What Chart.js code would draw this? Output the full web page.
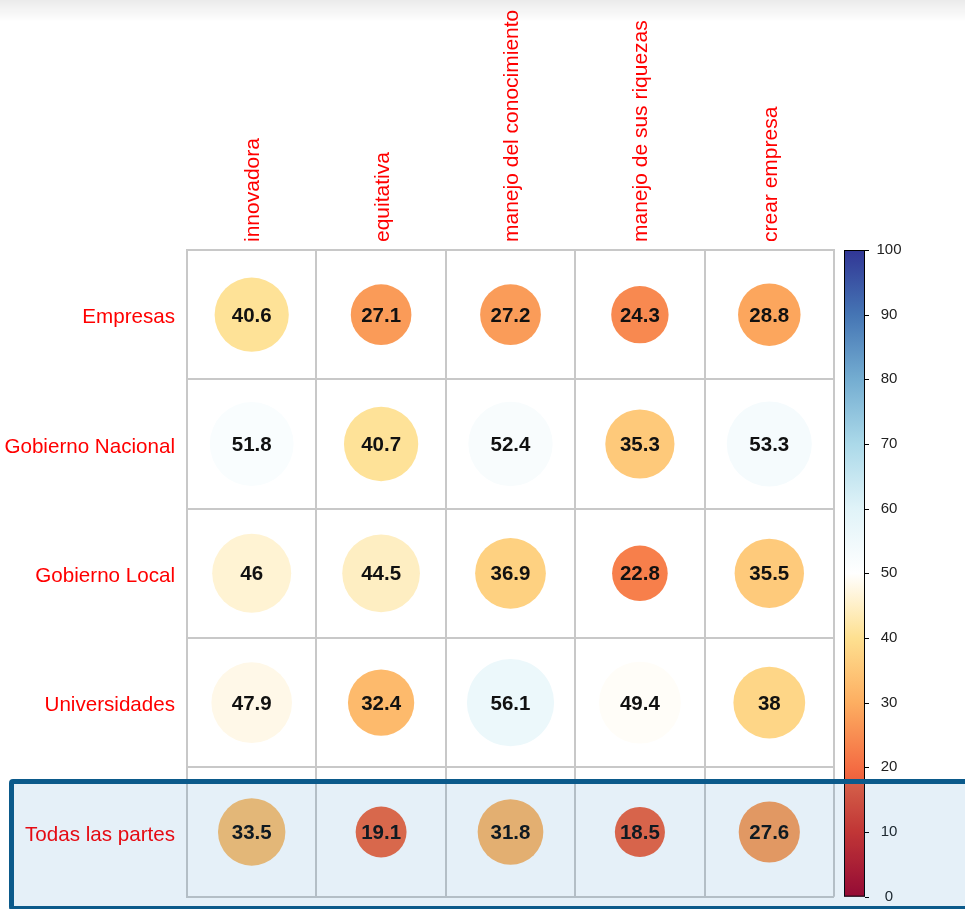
<!DOCTYPE html>
<html lang="es">
<head>
<meta charset="utf-8">
<title>Percepción por actor</title>
<script src="https://cdn.jsdelivr.net/npm/chart.js@4.4.1/dist/chart.umd.min.js"></script>
<style>
  html, body { margin: 0; padding: 0; background: #fff; overflow: hidden; }
  #contenedor { position: relative; width: 965px; height: 909px; }
  #sombra {
    position: absolute; left: 0; top: 0; width: 965px; height: 22px;
    background: linear-gradient(rgba(0,0,0,0.08), rgba(0,0,0,0));
    pointer-events: none;
  }
  #resaltado {
    position: absolute; left: 9px; top: 779px; width: 990px; height: 132px;
    box-sizing: border-box; border: 5px solid #0b5a8b; border-radius: 4px;
    background: rgba(0, 105, 185, 0.1);
    pointer-events: none;
  }
</style>
</head>
<body>
<div id="contenedor">
  <canvas id="grafico" width="965" height="909"></canvas>
  <div id="resaltado"></div>
  <div id="sombra"></div>
</div>
<script>
// Categorías
const actores = ['Empresas', 'Gobierno Nacional', 'Gobierno Local', 'Universidades', 'Todas las partes'];
const atributos = ['innovadora', 'equitativa', 'manejo del conocimiento', 'manejo de sus riquezas', 'crear empresa'];

// Valores (%) por actor, en el orden de los atributos
const empresas = [40.6, 27.1, 27.2, 24.3, 28.8];
const gobiernoNacional = [51.8, 40.7, 52.4, 35.3, 53.3];
const gobiernoLocal = [46, 44.5, 36.9, 22.8, 35.5];
const universidades = [47.9, 32.4, 56.1, 49.4, 38];
const todasLasPartes = [33.5, 19.1, 31.8, 18.5, 27.6];

// Escala de color
const ticksColor = [0, 10, 20, 30, 40, 50, 60, 70, 80, 90, 100];
const paleta = ['#A50026', '#D73027', '#F46D43', '#FDAE61', '#FEE090', '#FFFFFF',
                '#E0F3F8', '#ABD9E9', '#74ADD1', '#4575B4', '#313695'];

const filas = [empresas, gobiernoNacional, gobiernoLocal, universidades, todasLasPartes];
const fuente = '"Liberation Sans", Arial, sans-serif';

function hexRgb(h) {
    return [parseInt(h.slice(1, 3), 16), parseInt(h.slice(3, 5), 16), parseInt(h.slice(5, 7), 16)];
}

// Interpola el color de la paleta para un valor 0-100
function colorPara(v) {
    const t = Math.max(0, Math.min(100, v)) / 10;
    const i = Math.min(paleta.length - 2, Math.floor(t));
    const f = t - i;
    const a = hexRgb(paleta[i]);
    const b = hexRgb(paleta[i + 1]);
    const c = a.map((x, k) => Math.round(x + (b[k] - x) * f));
    return `rgb(${c[0]}, ${c[1]}, ${c[2]})`;
}

// Puntos de la matriz
const puntos = [];
filas.forEach((fila, r) => {
    fila.forEach((v, c) => {
        puntos.push({ x: atributos[c], y: actores[r], v: v });
    });
});

// Etiquetas con el valor dentro de cada círculo
const pluginEtiquetas = {
    id: 'etiquetas',
    afterDatasetsDraw(chart) {
        const ctx = chart.ctx;
        const meta = chart.getDatasetMeta(0);
        ctx.save();
        ctx.font = 'bold 20.5px ' + fuente;
        ctx.fillStyle = '#111';
        ctx.textAlign = 'center';
        ctx.textBaseline = 'middle';
        meta.data.forEach((el, i) => {
            ctx.fillText(String(puntos[i].v), el.x, el.y + 1.5);
        });
        ctx.restore();
    }
};

// Barra de color a la derecha
const pluginBarra = {
    id: 'barraColor',
    afterDraw(chart) {
        const s = chart.scales.cb;
        const ctx = chart.ctx;
        const x0 = s.left + 10;
        const ancho = 21;
        const yTop = s.getPixelForValue(100);
        const yBot = s.getPixelForValue(0);
        const grad = ctx.createLinearGradient(0, yBot, 0, yTop);
        paleta.forEach((col, i) => grad.addColorStop(i / (paleta.length - 1), col));
        ctx.save();
        ctx.fillStyle = grad;
        ctx.fillRect(x0, yTop, ancho, yBot - yTop);
        ctx.strokeStyle = '#000';
        ctx.lineWidth = 1;
        ctx.strokeRect(x0 + 0.5, yTop + 0.5, ancho - 1, yBot - yTop - 1);
        ctx.beginPath();
        s.ticks.forEach(t => {
            const y = Math.round(s.getPixelForValue(t.value)) + 0.5;
            ctx.moveTo(x0 + ancho, y);
            ctx.lineTo(x0 + ancho + 4, y);
        });
        ctx.stroke();
        // textos de la barra
        ctx.fillStyle = '#222';
        ctx.font = '15px ' + fuente;
        ctx.textAlign = 'center';
        ctx.textBaseline = 'middle';
        s.ticks.forEach(t => {
            ctx.fillText(String(t.value), x0 + ancho + 24, s.getPixelForValue(t.value));
        });
        ctx.restore();
    }
};

const colorRejilla = '#c8c8c8';

new Chart(document.getElementById('grafico'), {
    type: 'scatter',
    data: {
        datasets: [{
            data: puntos,
            showLine: false,
            pointBackgroundColor: ctx => ctx.raw ? colorPara(ctx.raw.v) : '#fff',
            pointBorderWidth: 0,
            pointRadius: ctx => {
                const area = ctx.chart.chartArea;
                if (!ctx.raw || !area) return 0;
                const media = area.width / atributos.length / 2;
                return media * 0.9 * Math.sqrt(ctx.raw.v / 100);
            }
        }]
    },
    options: {
        responsive: false,
        animation: false,
        events: [],
        layout: { padding: { top: 0, right: 0, bottom: 12, left: 0 } },
        plugins: {
            legend: { display: false },
            tooltip: { enabled: false }
        },
        scales: {
            x: {
                type: 'category',
                labels: atributos,
                position: 'top',
                offset: true,
                grid: { offset: true, color: colorRejilla, lineWidth: 2, drawTicks: false },
                border: { color: colorRejilla, width: 2 },
                ticks: {
                    autoSkip: false, minRotation: 90, maxRotation: 90, padding: 8, labelOffset: 27,
                    color: 'red', font: { family: fuente, size: 21 }
                },
                afterFit: s => { s.height = 250; }
            },
            y: {
                type: 'category',
                labels: actores,
                offset: true,
                grid: {
                    offset: true, color: colorRejilla, lineWidth: 2,
                    drawTicks: true, tickLength: 12, tickColor: 'rgba(0,0,0,0)'
                },
                border: { color: colorRejilla, width: 2 },
                ticks: {
                    padding: 0, labelOffset: 3, color: 'red',
                    font: { family: fuente, size: 20.6 }
                },
                afterFit: s => { s.width = 187; }
            },
            cb: {
                type: 'linear',
                position: 'right',
                min: 0,
                max: 100,
                grid: { display: false, drawTicks: false },
                border: { display: false },
                ticks: { display: false, padding: 0 },
                afterBuildTicks: s => { s.ticks = ticksColor.map(v => ({ value: v })); },
                afterFit: s => { s.width = 131; }
            }
        }
    },
    plugins: [pluginEtiquetas, pluginBarra]
});
</script>
</body>
</html>
